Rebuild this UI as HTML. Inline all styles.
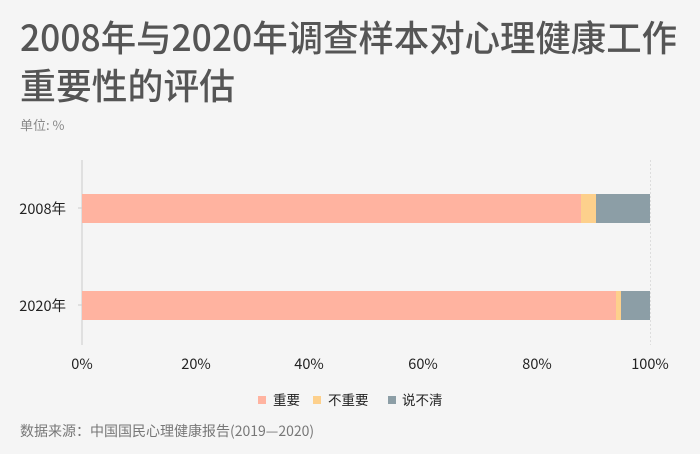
<!DOCTYPE html>
<html><head><meta charset="utf-8"><style>
html,body{margin:0;padding:0;background:#f5f5f5;}
svg{display:block;font-family:"Liberation Sans","Noto Sans CJK SC",sans-serif;}
</style></head><body>
<svg width="700" height="454" viewBox="0 0 700 454" xmlns="http://www.w3.org/2000/svg">
<rect width="700" height="454" fill="#f5f5f5"/>
<g font-family="'Noto Sans CJK SC',sans-serif" fill="#555" font-size="36" font-weight="500">
<text x="20" y="51" textLength="657" lengthAdjust="spacingAndGlyphs">2008年与2020年调查样本对心理健康工作</text>
<text x="20" y="99" textLength="215" lengthAdjust="spacingAndGlyphs">重要性的评估</text>
</g>
<text x="20" y="130" font-size="13" fill="#888" font-family="'Noto Sans CJK SC',sans-serif">单位: %</text>
<line x1="650.5" y1="160" x2="650.5" y2="345" stroke="#ddd" stroke-dasharray="2,2"/>
<line x1="82" y1="160" x2="82" y2="345" stroke="#ccc" stroke-width="1"/>
<line x1="78" y1="208" x2="82" y2="208" stroke="#ccc"/>
<line x1="78" y1="305" x2="82" y2="305" stroke="#ccc"/>
<rect x="82" y="194" width="499" height="29" fill="#ffb3a0"/>
<rect x="581" y="194" width="15" height="29" fill="#fdd08c"/>
<rect x="596" y="194" width="54" height="29" fill="#8c9ea6"/>
<rect x="82" y="291" width="534" height="29" fill="#ffb3a0"/>
<rect x="616" y="291" width="5" height="29" fill="#fdd08c"/>
<rect x="621" y="291" width="29" height="29" fill="#8c9ea6"/>
<g font-size="14.5" fill="#222" font-family="'Noto Sans CJK SC',sans-serif" text-anchor="end">
<text x="66" y="214">2008年</text>
<text x="66" y="311">2020年</text>
</g>
<g font-size="14.5" fill="#222" font-family="'Noto Sans CJK SC',sans-serif" text-anchor="middle">
<text x="82" y="369">0%</text>
<text x="196" y="369">20%</text>
<text x="309" y="369">40%</text>
<text x="423" y="369">60%</text>
<text x="537" y="369">80%</text>
<text x="650" y="369">100%</text>
</g>
<g font-size="13.5" fill="#222" font-family="'Noto Sans CJK SC',sans-serif">
<rect x="258" y="396" width="8" height="8" fill="#ffb3a0"/>
<text x="273" y="405">重要</text>
<rect x="313" y="396" width="8" height="8" fill="#fdd08c"/>
<text x="328" y="405">不重要</text>
<rect x="388" y="396" width="8" height="8" fill="#8c9ea6"/>
<text x="402" y="405">说不清</text>
</g>
<text x="20" y="436" font-size="14" fill="#777" font-family="'Noto Sans CJK SC',sans-serif">数据来源：中国国民心理健康报告(2019—2020)</text>
</svg>
</body></html>
